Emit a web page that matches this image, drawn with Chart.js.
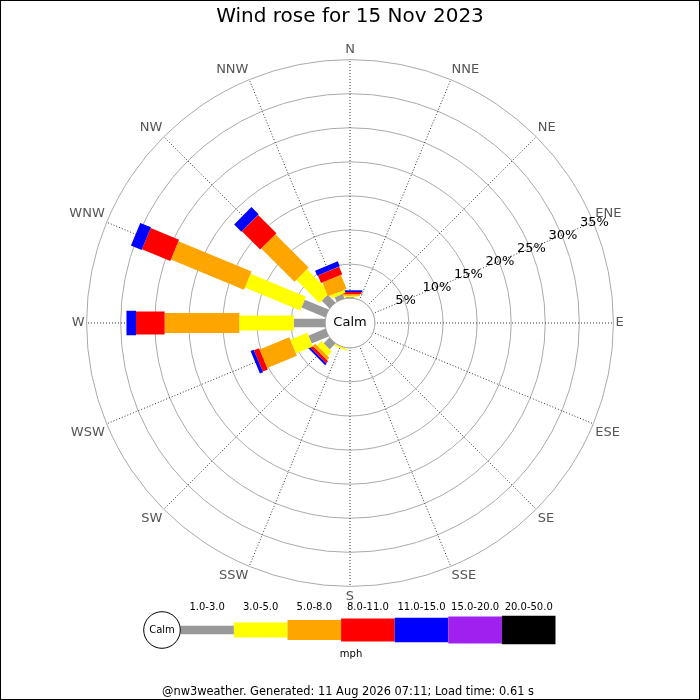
<!DOCTYPE html>
<html>
<head>
<meta charset="utf-8">
<title>Wind rose</title>
<script src="https://cdn.jsdelivr.net/npm/chart.js@4.4.1/dist/chart.umd.min.js"></script>
<style>
  html, body { margin: 0; padding: 0; background: #fff; }
  canvas { display: block; }
</style>
</head>
<body>
<canvas id="windRose" width="700" height="700"></canvas>
<script>
// compass points, clockwise from north
const directions = ['N', 'NNE', 'NE', 'ENE', 'E', 'ESE', 'SE', 'SSE',
                    'S', 'SSW', 'SW', 'WSW', 'W', 'WNW', 'NW', 'NNW'];

// speed bands (mph)
const speedBands = ['1.0-3.0', '3.0-5.0', '5.0-8.0', '8.0-11.0', '11.0-15.0', '15.0-20.0', '20.0-50.0'];

// % of time per direction, one array per speed band
const pct1to3   = [0.15, 0, 0, 0, 0, 0, 0, 0, 0, 0.05, 1.2, 2.7, 4.6, 3.8, 1.6, 0.7];
const pct3to5   = [0.2,  0, 0, 0, 0, 0, 0, 0, 0, 0.25, 0.9, 2.7, 8.0, 8.8, 4.8, 0.5];
const pct5to8   = [0.25, 0, 0, 0, 0, 0, 0, 0, 0, 0,    0.5, 4.7, 10.95, 11.6, 6.9, 2.2];
const pct8to11  = [0.3,  0, 0, 0, 0, 0, 0, 0, 0, 0,    0.4, 0.8, 4.2, 4.5, 3.8, 1.2];
const pct11to15 = [0.25, 0, 0, 0, 0, 0, 0, 0, 0, 0,    0.3, 0.5, 1.4, 1.7, 1.5, 0.8];
const pct15to20 = [0,    0, 0, 0, 0, 0, 0, 0, 0, 0,    0,   0,   0,   0,   0,   0];
const pct20to50 = [0,    0, 0, 0, 0, 0, 0, 0, 0, 0,    0,   0,   0,   0,   0,   0];

// ring labels
const radialTicks = [5, 10, 15, 20, 25, 30, 35];

const title = 'Wind rose for 15 Nov 2023';
const footer = '@nw3weather. Generated: 11 Aug 2026 07:11; Load time: 0.61 s';

// styling
const bandColors = ['#999999', '#ffff00', '#ffa500', '#ff0000', '#0000ff', '#a020f0', '#000000'];
const bandWidths = [8.5, 15, 20, 23, 24.5, 27, 28.5];
const FONT = 'DejaVu Sans';

Chart.defaults.font.family = FONT;

const bandData = [pct1to3, pct3to5, pct5to8, pct8to11, pct11to15, pct15to20, pct20to50];

const windRosePlugin = {
  id: 'windRose',
  beforeDatasetsDraw(chart) {
    const r = chart.scales.r;
    const ctx = chart.ctx;
    const calmR = r.getDistanceFromCenterForValue(0);

    ctx.save();
    // calm circle
    ctx.beginPath();
    ctx.arc(r.xCenter, r.yCenter, calmR, 0, Math.PI * 2);
    ctx.fillStyle = '#fff';
    ctx.fill();
    ctx.strokeStyle = '#aaa';
    ctx.lineWidth = 1;
    ctx.stroke();

    // stacked radial bars
    chart.data.labels.forEach((lab, i) => {
      const angle = r.getIndexAngle(i) - Math.PI / 2;
      let total = 0;
      chart.data.datasets.forEach((ds, b) => {
        const v = ds.data[i];
        if (!v) return;
        const r0 = r.getDistanceFromCenterForValue(total);
        total += v;
        const r1 = r.getDistanceFromCenterForValue(total);
        ctx.save();
        ctx.translate(r.xCenter, r.yCenter);
        ctx.rotate(angle);
        ctx.fillStyle = bandColors[b];
        ctx.fillRect(r0, -bandWidths[b] / 2, r1 - r0, bandWidths[b]);
        ctx.restore();
      });
    });

    ctx.fillStyle = '#000';
    ctx.textAlign = 'center';
    ctx.textBaseline = 'middle';
    ctx.font = '13px "' + FONT + '"';
    ctx.fillText('Calm', r.xCenter, r.yCenter);

    // ring labels along the ENE spoke
    radialTicks.forEach(t => {
      const p = r.getPointPosition(3, r.getDistanceFromCenterForValue(t));
      ctx.fillText(t + '%', p.x + 1, p.y);
    });
    ctx.restore();
  },
  afterDraw(chart) {
    const ctx = chart.ctx;
    ctx.save();

    // legend
    const cx = 162, cy = 630, cr = 18.3;
    const x0 = cx + cr, segW = 53.6;
    speedBands.forEach((lab, b) => {
      const w = bandWidths[b];
      ctx.fillStyle = bandColors[b];
      ctx.fillRect(x0 + b * segW, cy - w / 2, segW, w);
      ctx.fillStyle = '#000';
      ctx.font = '10px "' + FONT + '"';
      ctx.textAlign = 'center';
      ctx.textBaseline = 'middle';
      ctx.fillText(lab, x0 + b * segW + segW / 2, 607);
    });
    ctx.beginPath();
    ctx.arc(cx, cy, cr, 0, Math.PI * 2);
    ctx.fillStyle = '#fff';
    ctx.fill();
    ctx.strokeStyle = '#000';
    ctx.lineWidth = 1;
    ctx.stroke();
    ctx.fillStyle = '#000';
    ctx.fillText('Calm', cx, cy);
    ctx.fillText('mph', 351, 654);

    ctx.font = '11.4px "' + FONT + '"';
    ctx.fillText(footer, 348, 692);

    // frame
    ctx.strokeStyle = '#000';
    ctx.lineWidth = 2;
    ctx.strokeRect(0, 0, chart.width, chart.height);
    ctx.restore();
  }
};

new Chart(document.getElementById('windRose'), {
  type: 'radar',
  data: {
    labels: directions,
    datasets: speedBands.map((lab, b) => ({
      label: lab,
      data: bandData[b],
      showLine: false,
      borderWidth: 0,
      pointRadius: 0,
      pointHitRadius: 0,
      fill: false,
      backgroundColor: 'transparent'
    }))
  },
  options: {
    responsive: false,
    animation: false,
    events: [],
    layout: { padding: { top: 0, bottom: 95, left: 0, right: 0 } },
    plugins: {
      legend: { display: false },
      tooltip: { enabled: false },
      title: {
        display: true,
        text: title,
        color: '#000',
        font: { size: 20, weight: 'normal' },
        padding: { top: 5, bottom: 14 }
      }
    },
    scales: {
      r: {
        min: -3.65,
        max: 35,
        ticks: { display: false, stepSize: 5 },
        grid: { circular: true, color: '#aaa', lineWidth: 1 },
        angleLines: { color: '#333', lineWidth: 1, borderDash: [1, 2] },
        pointLabels: { display: true, color: '#555', padding: 2, font: { size: 13 } }
      }
    }
  },
  plugins: [windRosePlugin]
});
</script>
</body>
</html>
